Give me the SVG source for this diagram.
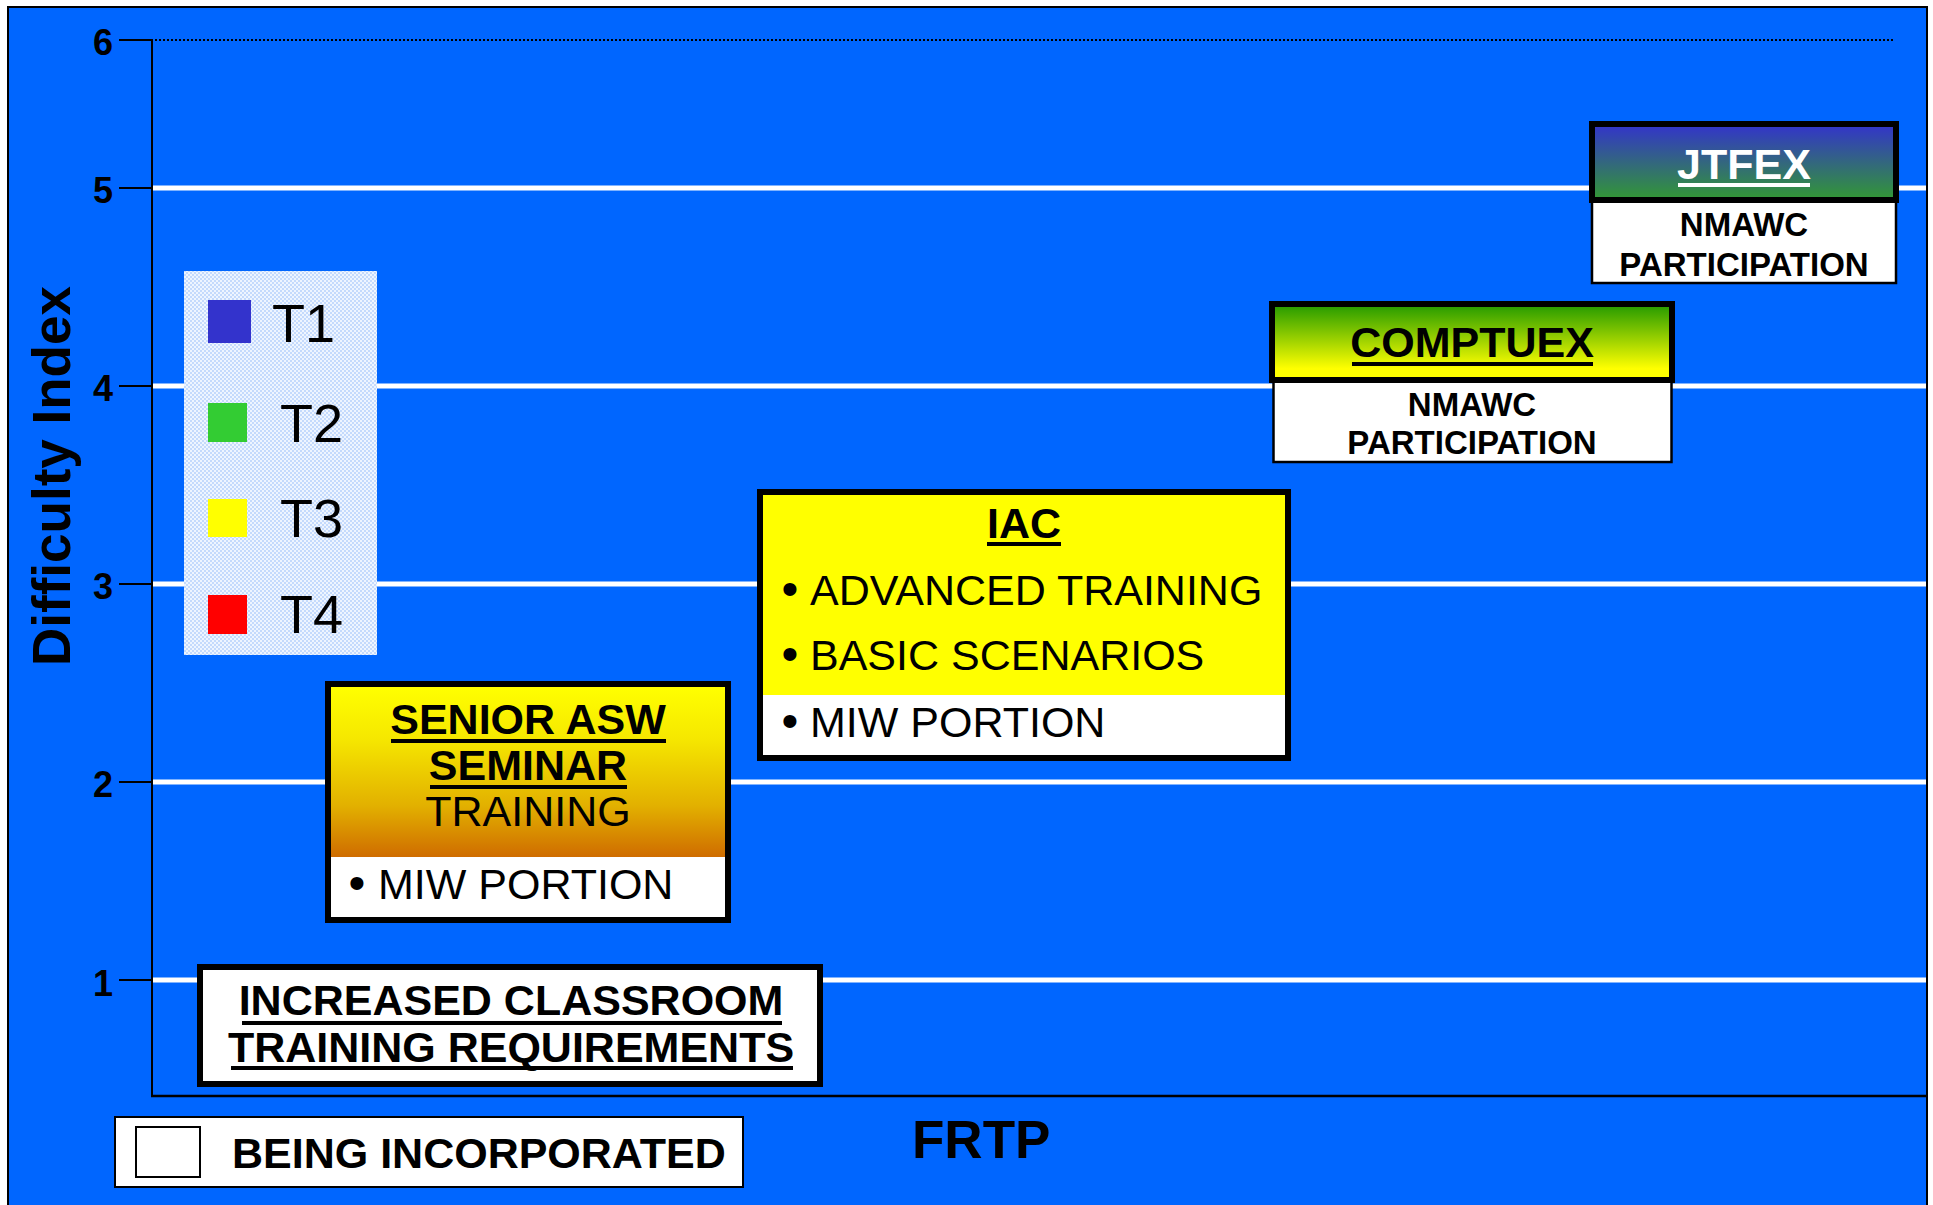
<svg xmlns="http://www.w3.org/2000/svg" width="1933" height="1205" viewBox="0 0 1933 1205">
<defs>
<style>
text{font-family:"Liberation Sans",Arial,sans-serif;fill:#000}
.b{font-weight:bold}
.tick{font-size:36px;font-weight:bold;text-anchor:end}
.grid{stroke:#fff;stroke-width:5}
.tk{stroke:#000;stroke-width:2}
.ul{stroke:#000;stroke-width:4}
.thick{stroke:#000;stroke-width:6}
.thin{stroke:#000;stroke-width:2.5;fill:#fff}
.t42{font-size:43px}
.t31{font-size:33px;font-weight:bold;text-anchor:middle}
.mid{text-anchor:middle}
.leg{font-size:54px}
</style>
<linearGradient id="gJ" x1="0" y1="0" x2="0" y2="1"><stop offset="0" stop-color="#3333cc"/><stop offset="1" stop-color="#339933"/></linearGradient>
<linearGradient id="gC" x1="0" y1="0" x2="0" y2="1"><stop offset="0" stop-color="#229900"/><stop offset="0.85" stop-color="#ffff00"/><stop offset="1" stop-color="#ffff00"/></linearGradient>
<linearGradient id="gS" x1="0" y1="0" x2="0" y2="1"><stop offset="0" stop-color="#ffff00"/><stop offset="0.3" stop-color="#f6e800"/><stop offset="0.7" stop-color="#e2b000"/><stop offset="1" stop-color="#cf6c00"/></linearGradient>
<pattern id="pL" patternUnits="userSpaceOnUse" width="4" height="4"><rect width="4" height="4" fill="#c4dafc"/><rect width="2" height="2" fill="#eef5ff"/><rect x="2" y="2" width="2" height="2" fill="#eef5ff"/></pattern>
</defs>
<rect x="0" y="0" width="1933" height="1205" fill="#fff"/>
<rect x="8" y="7" width="1919" height="1210" fill="#0066ff" stroke="#000" stroke-width="2"/>

<g id="axes">
<line x1="155" y1="40" x2="1894" y2="40" stroke="#000" stroke-width="2" stroke-dasharray="2 2"/>
<line class="grid" x1="152" y1="188" x2="1926" y2="188"/>
<line class="grid" x1="152" y1="386" x2="1926" y2="386"/>
<line class="grid" x1="152" y1="584" x2="1926" y2="584"/>
<line class="grid" x1="152" y1="782" x2="1926" y2="782"/>
<line class="grid" x1="152" y1="980" x2="1926" y2="980"/>
<line x1="152" y1="39" x2="152" y2="1097" stroke="#000" stroke-width="2"/>
<line x1="151" y1="1096" x2="1927" y2="1096" stroke="#000" stroke-width="2.5"/>
<line class="tk" x1="119" y1="40" x2="152" y2="40"/>
<line class="tk" x1="119" y1="188" x2="152" y2="188"/>
<line class="tk" x1="119" y1="386" x2="152" y2="386"/>
<line class="tk" x1="119" y1="584" x2="152" y2="584"/>
<line class="tk" x1="119" y1="782" x2="152" y2="782"/>
<line class="tk" x1="119" y1="980" x2="152" y2="980"/>
<text class="tick" x="113" y="55">6</text>
<text class="tick" x="113" y="203">5</text>
<text class="tick" x="113" y="401">4</text>
<text class="tick" x="113" y="599">3</text>
<text class="tick" x="113" y="797">2</text>
<text class="tick" x="113" y="996">1</text>
<text class="b mid" font-size="53" transform="translate(70,476) rotate(-90)">Difficulty Index</text>
<text class="b" font-size="53" x="912" y="1158">FRTP</text>
</g>

<g id="legend">
<rect x="184" y="271" width="193" height="384" fill="url(#pL)"/>
<rect x="208" y="300" width="43" height="43" fill="#3333cc"/>
<rect x="208" y="403" width="39" height="39" fill="#33cc33"/>
<rect x="208" y="499" width="39" height="38" fill="#ffff00"/>
<rect x="208" y="595" width="39" height="39" fill="#ff0000"/>
<text class="leg" x="272" y="342">T1</text>
<text class="leg" x="280" y="442">T2</text>
<text class="leg" x="280" y="537">T3</text>
<text class="leg" x="280" y="633">T4</text>
</g>

<g id="being-incorporated">
<rect x="115" y="1117" width="628" height="70" fill="#fff" stroke="#000" stroke-width="2"/>
<rect x="136" y="1127" width="64" height="50" fill="#fff" stroke="#000" stroke-width="2"/>
<text class="b t42" x="232" y="1168">BEING INCORPORATED</text>
</g>

<g id="classroom">
<rect class="thick" x="200" y="967" width="620" height="117" fill="#fff"/>
<text class="b t42 mid" x="511" y="1015">INCREASED CLASSROOM</text>
<line class="ul" x1="242" y1="1023" x2="782" y2="1023"/>
<text class="b t42 mid" x="511" y="1062">TRAINING REQUIREMENTS</text>
<line class="ul" x1="231" y1="1068" x2="793" y2="1068"/>
</g>

<g id="senior-asw">
<rect x="328" y="684" width="400" height="236" fill="#fff"/>
<rect x="331" y="687" width="394" height="170" fill="url(#gS)"/>
<rect x="328" y="684" width="400" height="236" fill="none" class="thick"/>
<text class="b t42 mid" x="528" y="734">SENIOR ASW</text>
<line class="ul" x1="391" y1="741" x2="666" y2="741"/>
<text class="b t42 mid" x="528" y="780">SEMINAR</text>
<line class="ul" x1="430" y1="787" x2="627" y2="787"/>
<text class="t42 mid" x="528" y="826">TRAINING</text>
<text class="t42" y="899"><tspan x="357" font-size="48" text-anchor="middle">•</tspan><tspan x="378">MIW PORTION</tspan></text>
</g>

<g id="iac">
<rect x="760" y="492" width="528" height="266" fill="#fff"/>
<rect x="763" y="495" width="522" height="200" fill="#ffff00"/>
<rect x="760" y="492" width="528" height="266" fill="none" class="thick"/>
<text class="b t42 mid" x="1024" y="538">IAC</text>
<line class="ul" x1="987" y1="544" x2="1061" y2="544"/>
<text class="t42" y="605"><tspan x="790" font-size="48" text-anchor="middle">•</tspan><tspan x="810">ADVANCED TRAINING</tspan></text>
<text class="t42" y="670"><tspan x="790" font-size="48" text-anchor="middle">•</tspan><tspan x="810">BASIC SCENARIOS</tspan></text>
<text class="t42" y="737"><tspan x="790" font-size="48" text-anchor="middle">•</tspan><tspan x="810">MIW PORTION</tspan></text>
</g>

<g id="comptuex">
<rect class="thin" x="1273.5" y="381" width="398" height="81"/>
<rect class="thick" x="1272" y="304" width="400" height="76" fill="url(#gC)"/>
<text class="b t42 mid" x="1472" y="357">COMPTUEX</text>
<line class="ul" x1="1352" y1="364" x2="1593" y2="364"/>
<text class="t31" x="1472" y="416">NMAWC</text>
<text class="t31" x="1472" y="454">PARTICIPATION</text>
</g>

<g id="jtfex">
<rect class="thin" x="1592" y="201" width="304" height="82"/>
<rect class="thick" x="1592" y="124" width="304" height="76" fill="url(#gJ)"/>
<text class="b t42 mid" x="1744" y="179" style="fill:#fff">JTFEX</text>
<line x1="1678" y1="185" x2="1810" y2="185" stroke="#fff" stroke-width="4"/>
<text class="t31" x="1744" y="236">NMAWC</text>
<text class="t31" x="1744" y="276">PARTICIPATION</text>
</g>
</svg>
